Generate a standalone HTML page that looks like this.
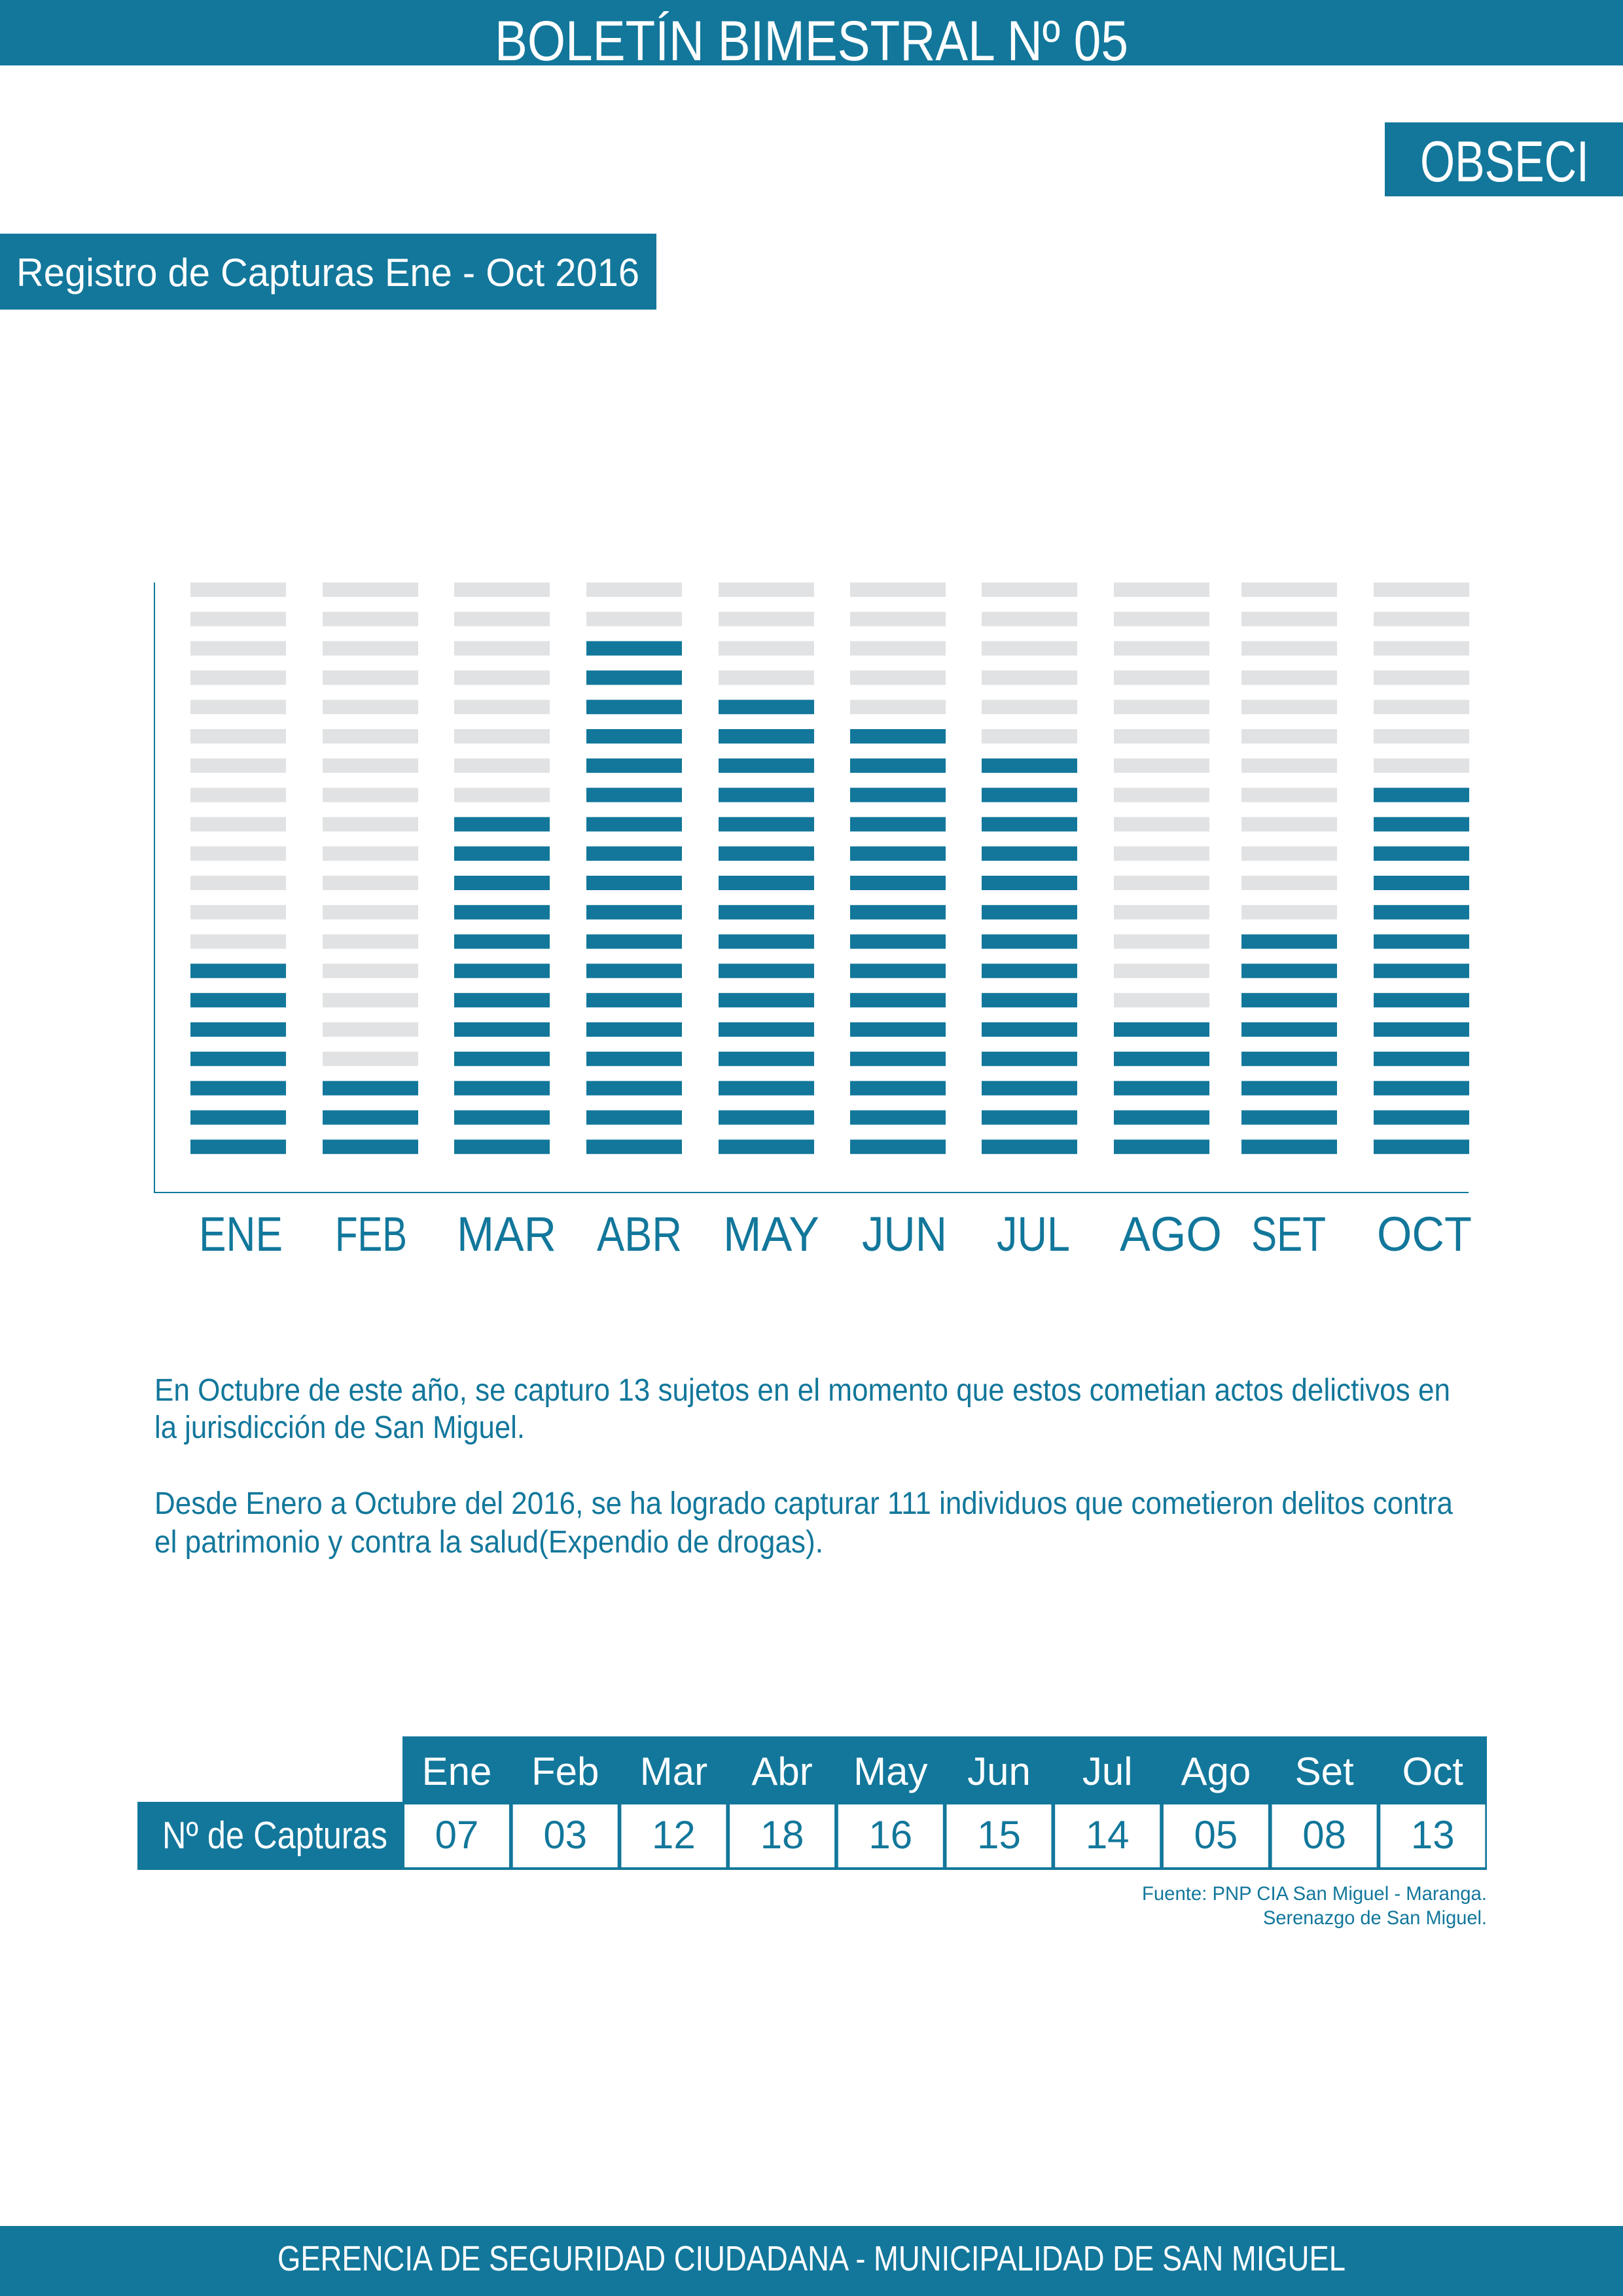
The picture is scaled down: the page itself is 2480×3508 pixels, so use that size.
<!DOCTYPE html>
<html><head><meta charset="utf-8"><style>
html,body{margin:0;padding:0;background:#fff}
svg{display:block}
text{font-family:"Liberation Sans",sans-serif}
</style></head><body>
<svg width="2480" height="3508" viewBox="0 0 2480 3508" xmlns="http://www.w3.org/2000/svg">
<rect x="0" y="0" width="2480" height="100" fill="#12779b"/>
<text x="756" y="92" font-size="86" fill="#fff" textLength="968" lengthAdjust="spacingAndGlyphs">BOLETÍN BIMESTRAL Nº 05</text>
<rect x="2116" y="187" width="364" height="113" fill="#12779b"/>
<text x="2170" y="277" font-size="88" fill="#fff" textLength="258" lengthAdjust="spacingAndGlyphs">OBSECI</text>
<rect x="0" y="357" width="1003" height="116" fill="#12779b"/>
<text x="25" y="437" font-size="60" fill="#fff" textLength="952" lengthAdjust="spacingAndGlyphs">Registro de Capturas Ene - Oct 2016</text>

<rect x="235" y="890" width="2" height="933" fill="#12779b"/>
<rect x="235" y="1821" width="2009" height="2" fill="#12779b"/>
<g id="bars"></g>
<g fill="#12779b" font-size="74">
<text x="304" y="1911" textLength="128" lengthAdjust="spacingAndGlyphs">ENE</text>
<text x="512" y="1911" textLength="110" lengthAdjust="spacingAndGlyphs">FEB</text>
<text x="698" y="1911" textLength="152" lengthAdjust="spacingAndGlyphs">MAR</text>
<text x="912" y="1911" textLength="130" lengthAdjust="spacingAndGlyphs">ABR</text>
<text x="1105" y="1911" textLength="147" lengthAdjust="spacingAndGlyphs">MAY</text>
<text x="1317" y="1911" textLength="130" lengthAdjust="spacingAndGlyphs">JUN</text>
<text x="1523" y="1911" textLength="112" lengthAdjust="spacingAndGlyphs">JUL</text>
<text x="1711" y="1911" textLength="156" lengthAdjust="spacingAndGlyphs">AGO</text>
<text x="1912" y="1911" textLength="114" lengthAdjust="spacingAndGlyphs">SET</text>
<text x="2104" y="1911" textLength="145" lengthAdjust="spacingAndGlyphs">OCT</text>
</g>

<g fill="#12779b" font-size="48">
<text x="236" y="2140" textLength="1980" lengthAdjust="spacingAndGlyphs">En Octubre de este año, se capturo 13 sujetos en el momento que estos cometian actos delictivos en</text>
<text x="236" y="2197" textLength="566" lengthAdjust="spacingAndGlyphs">la jurisdicción de San Miguel.</text>
<text x="236" y="2313" textLength="1984" lengthAdjust="spacingAndGlyphs">Desde Enero a Octubre del 2016, se ha logrado capturar 111 individuos que cometieron delitos contra</text>
<text x="236" y="2372" textLength="1022" lengthAdjust="spacingAndGlyphs">el patrimonio y contra la salud(Expendio de drogas).</text>
</g>

<rect x="615" y="2653" width="1657" height="104" fill="#12779b"/>
<rect x="210" y="2753" width="2062" height="104" fill="#12779b"/>
<g id="cells"></g>
<text x="248" y="2824" font-size="58" fill="#fff" textLength="344" lengthAdjust="spacingAndGlyphs">Nº de Capturas</text>
<g font-size="60" text-anchor="middle" id="tbl"></g>
<g fill="#12779b" font-size="30" text-anchor="end">
<text x="2272" y="2903" textLength="527" lengthAdjust="spacingAndGlyphs">Fuente: PNP CIA San Miguel - Maranga.</text>
<text x="2272" y="2940" textLength="342" lengthAdjust="spacingAndGlyphs">Serenazgo de San Miguel.</text>
</g>

<rect x="0" y="3401" width="2480" height="107" fill="#12779b"/>
<text x="424" y="3469" font-size="54" fill="#fff" textLength="1632" lengthAdjust="spacingAndGlyphs">GERENCIA DE SEGURIDAD CIUDADANA - MUNICIPALIDAD DE SAN MIGUEL</text>
</svg>
<script>
var ns="http://www.w3.org/2000/svg";
var lefts=[291,493,694,896,1098,1299,1500,1702,1897,2099];
var vals=[7,3,12,18,16,15,14,5,8,13];
var g=document.getElementById("bars");
for(var c=0;c<10;c++){for(var r=0;r<20;r++){var rect=document.createElementNS(ns,"rect");
var y=890+r*44.8;rect.setAttribute("x",lefts[c]);rect.setAttribute("y",y.toFixed(1));
rect.setAttribute("width",146);rect.setAttribute("height",22);
rect.setAttribute("fill",(20-r)<=vals[c]?"#12779b":"#e1e2e4");g.appendChild(rect);}}
var heads=["Ene","Feb","Mar","Abr","May","Jun","Jul","Ago","Set","Oct"];
var nums=["07","03","12","18","16","15","14","05","08","13"];
var cg=document.getElementById("cells"),tg=document.getElementById("tbl");
for(var i=0;i<10;i++){var x=615+165.7*i;
var r2=document.createElementNS(ns,"rect");r2.setAttribute("x",(x+3).toFixed(1));r2.setAttribute("y",2757);
r2.setAttribute("width",160);r2.setAttribute("height",96);r2.setAttribute("fill","#fff");cg.appendChild(r2);
var t=document.createElementNS(ns,"text");t.setAttribute("x",(x+83).toFixed(1));t.setAttribute("y",2727);t.setAttribute("fill","#fff");t.textContent=heads[i];tg.appendChild(t);
var t2=document.createElementNS(ns,"text");t2.setAttribute("x",(x+83).toFixed(1));t2.setAttribute("y",2824);t2.setAttribute("fill","#12779b");t2.textContent=nums[i];tg.appendChild(t2);}
</script>
</body></html>
